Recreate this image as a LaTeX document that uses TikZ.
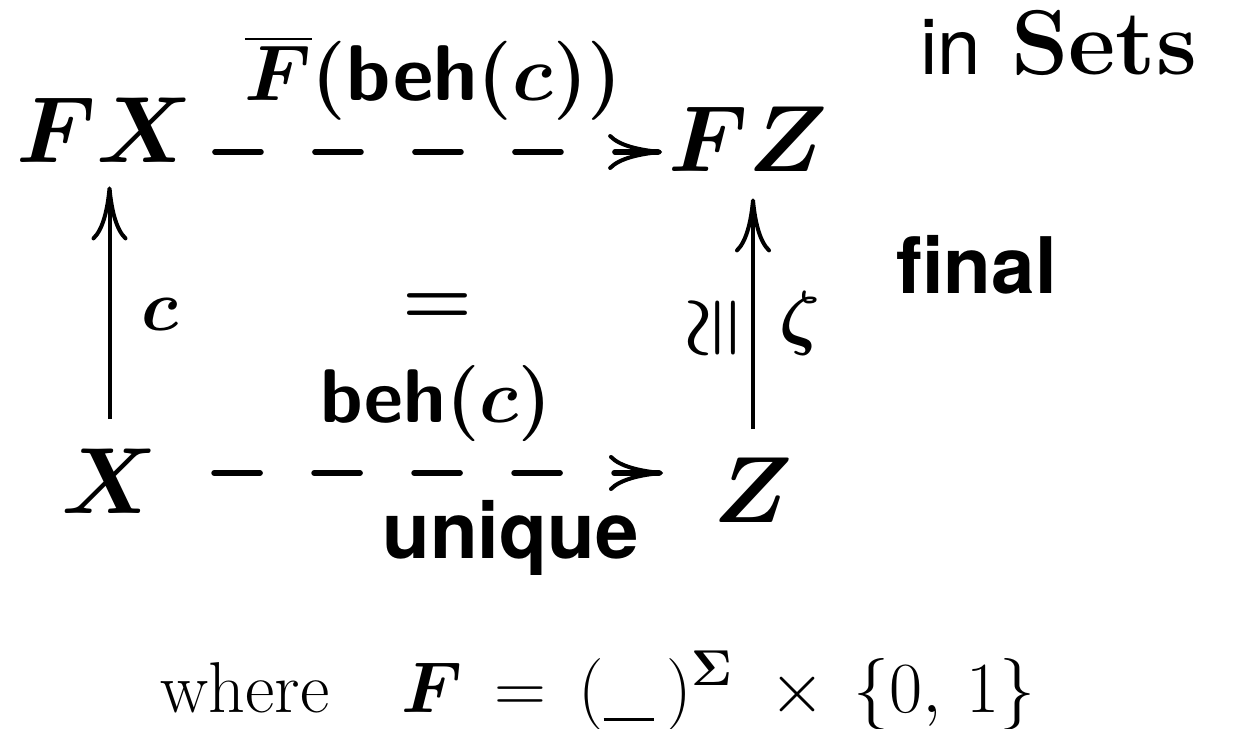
\RequirePackage{fix-cm}
\documentclass[tikz,border=0pt]{standalone}
\usepackage{amsmath}
\usepackage[no-math]{fontspec}
\newfontfamily\helv{TeX Gyre Heros}
\usetikzlibrary{arrows.meta,positioning}

\begin{document}
\begin{tikzpicture}[x=0.5pt, y=-0.5pt,
  >={Computer Modern Rightarrow[length=27pt,width=18pt,line width=2pt]},
  obj/.style={inner sep=0pt, font=\boldmath\fontsize{47}{52}\selectfont},
  lbl/.style={inner sep=0pt, font=\boldmath\fontsize{36}{40}\selectfont},
  word/.style={inner sep=0pt, font=\helv\bfseries\fontsize{39}{44}\selectfont},
  solidarrow/.style={->, line width=2pt},
  dasharrow/.style={->, line width=2.8pt, line cap=round, dash pattern=on 23pt off 27pt}]
  \useasboundingbox (0,0) rectangle (1241,728);
  % the square
  \node[obj, anchor=base] (fx) at (104.5,162) {$FX$};
  \node[obj, anchor=base] (fz) at (748,171) {$FZ$};
  \node[obj, anchor=base] (x) at (109.5,513) {$X$};
  \node[obj, anchor=base] (z) at (753,522) {$Z$};
  \draw[dasharrow, shorten <=11pt, shorten >=3pt]
    ([yshift=5pt]fx.base east) -- ([yshift=5pt]fx.base east -| fz.west);
  \draw[dasharrow, shorten <=28pt, shorten >=25pt]
    ([yshift=20pt]x.base east) -- ([yshift=20pt]x.base east -| z.west);
  \draw[solidarrow, shorten <=14.5pt, shorten >=12pt] (x.north) -- (x.north |- fx.south);
  \draw[solidarrow, shorten <=14pt, shorten >=13.5pt] (z.north) -- (z.north |- fz.south);
  % labels
  \node[lbl, anchor=base, font=\boldmath\fontsize{39.5}{43}\selectfont] (fbeh) at (433.5,100) {$\overline{F}(\mathsf{beh}(c))$};
  \node[lbl, anchor=base, font=\boldmath\fontsize{38}{42}\selectfont] (beh) at (436,422) {$\mathsf{beh}(c)$};
  \node[word, anchor=base] (uniq) at (510.5,558) {unique};
  \node[lbl, anchor=base] (cl) at (160,330) {$c$};
  \node[lbl, font=\boldmath\fontsize{40}{44}\selectfont] (eq) at (437,309) {$=$};
  \node[lbl, rotate=90] (iso) at (716,328) {$\cong$};
  \node[lbl, anchor=base] (zeta) at (800,341) {$\zeta$};
  \node[word, anchor=base] (fin) at (976.5,293) {final};
  \node[anchor=base west, inner sep=0pt] (cat) at (920,74)
    {{\helv\fontsize{39}{44}\selectfont in}\hspace{15pt}{\fontsize{46}{50}\selectfont$\mathbf{Sets}$}};
  \node[anchor=base west, inner sep=0pt, font=\fontsize{36}{40}\selectfont] (note) at (160,712)
    {where\quad $\boldsymbol{F}\,=\,(\rule[-0.3ex]{0.7em}{0.045em}\,)^{\mathbf{\Sigma}}\hspace{10pt}\times\,\{0,\,1\}$};
\end{tikzpicture}
\end{document}
